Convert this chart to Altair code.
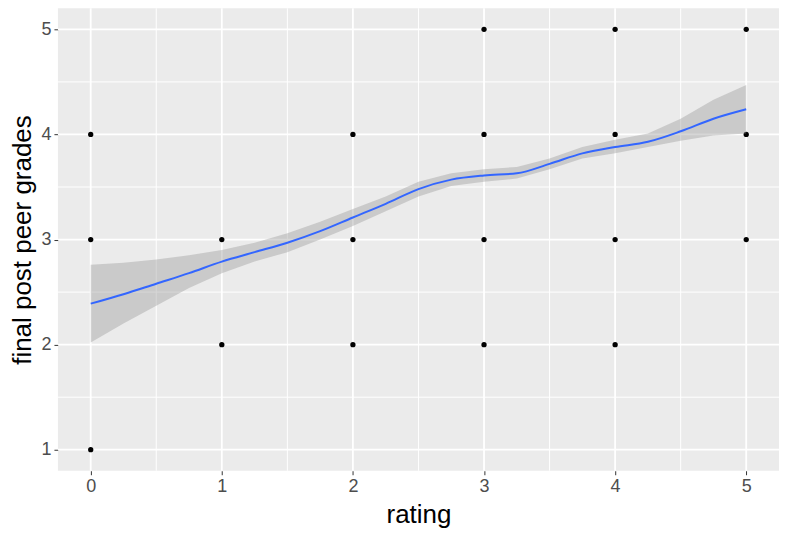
import altair as alt
import pandas as pd

# scatter points
pt_x = [0, 0, 0, 1, 1, 2, 2, 2, 3, 3, 3, 3, 4, 4, 4, 4, 5, 5, 5]
pt_y = [4, 3, 1, 3, 2, 4, 3, 2, 5, 4, 3, 2, 5, 4, 3, 2, 5, 4, 3]

# smooth fit
sm_x = [0, 0.25, 0.5, 0.75, 1, 1.25, 1.5, 1.75, 2, 2.25, 2.5, 2.75, 3, 3.25, 3.5, 3.75, 4, 4.25, 4.5, 4.75, 5]
sm_y = [2.39, 2.48, 2.58, 2.68, 2.79, 2.88, 2.97, 3.08, 3.21, 3.34, 3.48, 3.57, 3.61, 3.63, 3.72, 3.82, 3.88, 3.93, 4.03, 4.15, 4.24]
sm_lo = [2.02, 2.20, 2.37, 2.54, 2.68, 2.79, 2.88, 3.00, 3.13, 3.27, 3.41, 3.51, 3.55, 3.58, 3.67, 3.77, 3.82, 3.88, 3.94, 3.99, 4.01]
sm_hi = [2.76, 2.78, 2.81, 2.85, 2.90, 2.97, 3.06, 3.17, 3.29, 3.41, 3.55, 3.63, 3.67, 3.69, 3.77, 3.88, 3.95, 4.01, 4.15, 4.33, 4.47]

x_ticks = [0, 1, 2, 3, 4, 5]
y_ticks = [1, 2, 3, 4, 5]
x_minor = [0.5, 1.5, 2.5, 3.5, 4.5]
y_minor = [1.5, 2.5, 3.5, 4.5]

XD = [-0.25, 5.25]
YD = [0.8, 5.2]

pts = pd.DataFrame({"x": pt_x, "y": pt_y})
sm = pd.DataFrame({"x": sm_x, "y": sm_y, "lo": sm_lo, "hi": sm_hi})

xs = alt.Scale(domain=XD, nice=False, zero=False)
ys = alt.Scale(domain=YD, nice=False, zero=False)

xaxis = alt.Axis(values=x_ticks, title="rating", grid=False, domain=False,
                 tickColor="#333333", tickSize=4, tickWidth=1,
                 labelFontSize=18, labelColor="#4D4D4D", labelPadding=3,
                 titleFontSize=26, titleColor="#000000", titleFontWeight="normal",
                 titlePadding=6, format="d", labelFont="Liberation Sans", titleFont="Liberation Sans")
yaxis = alt.Axis(values=y_ticks, title="final post peer grades", grid=False, domain=False,
                 tickColor="#333333", tickSize=4, tickWidth=1,
                 labelFontSize=18, labelColor="#4D4D4D", labelPadding=3,
                 titleFontSize=26, titleColor="#000000", titleFontWeight="normal",
                 titlePadding=5, format="d", labelFont="Liberation Sans", titleFont="Liberation Sans")

gx_minor = alt.Chart(pd.DataFrame({"x": x_minor})).mark_rule(color="white", strokeWidth=1).encode(
    x=alt.X("x:Q", scale=xs, axis=xaxis))
gy_minor = alt.Chart(pd.DataFrame({"y": y_minor})).mark_rule(color="white", strokeWidth=1).encode(
    y=alt.Y("y:Q", scale=ys, axis=yaxis))
gx_major = alt.Chart(pd.DataFrame({"x": x_ticks})).mark_rule(color="white", strokeWidth=1.8).encode(
    x=alt.X("x:Q", scale=xs, axis=xaxis))
gy_major = alt.Chart(pd.DataFrame({"y": y_ticks})).mark_rule(color="white", strokeWidth=1.8).encode(
    y=alt.Y("y:Q", scale=ys, axis=yaxis))

points = alt.Chart(pts).mark_circle(color="black", size=28, opacity=1).encode(
    x=alt.X("x:Q", scale=xs, axis=xaxis),
    y=alt.Y("y:Q", scale=ys, axis=yaxis))

band = alt.Chart(sm).mark_area(color="#999999", opacity=0.4).encode(
    x=alt.X("x:Q", scale=xs, axis=xaxis),
    y=alt.Y("lo:Q", scale=ys, axis=yaxis),
    y2="hi:Q")

line = alt.Chart(sm).mark_line(color="#3366FF", strokeWidth=2, interpolate="monotone").encode(
    x=alt.X("x:Q", scale=xs, axis=xaxis),
    y=alt.Y("y:Q", scale=ys, axis=yaxis))

chart = alt.layer(gx_minor, gy_minor, gx_major, gy_major, points, band, line).properties(
    width=722, height=463,
    autosize=alt.AutoSizeParams(type="none"),
    padding={"left": 50, "top": 0, "right": 0, "bottom": 60},
    background="white",
).configure_view(fill="#EBEBEB", stroke=None)

chart.save("out.html", embed_options={"renderer": "svg", "actions": False})
